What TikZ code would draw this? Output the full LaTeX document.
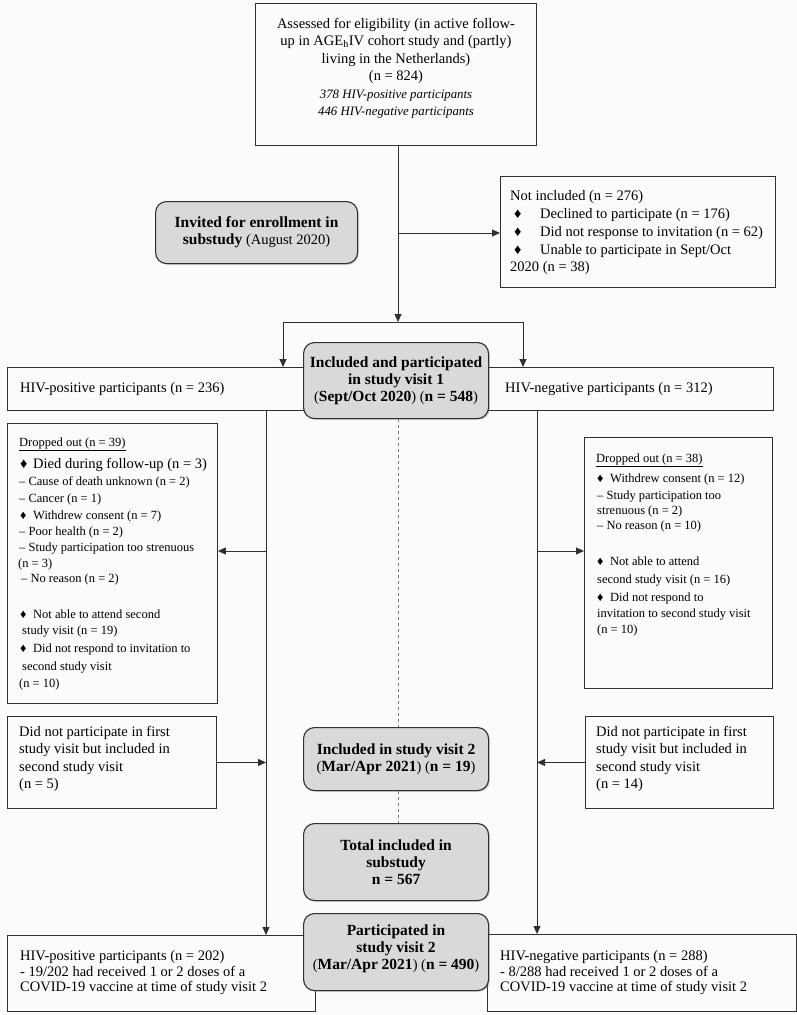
\documentclass[tikz,border=0pt]{standalone}
\usepackage{fontspec}
\setmainfont{Liberation Serif}
\usetikzlibrary{arrows.meta,shadows,calc}
\definecolor{bg}{HTML}{FBFBFB}
\definecolor{linec}{HTML}{303030}
\definecolor{gfill}{HTML}{D9D9D9}
\definecolor{dashc}{HTML}{7A7A7A}
\newcommand{\dia}{\makebox[13pt][l]{♦}}
\newcommand{\bft}[1]{{\fontsize{15.5}{17}\selectfont\bfseries #1}}
\begin{document}
\begin{tikzpicture}[x=1pt,y=-1pt,
  box/.style={draw=linec,line width=0.9pt,fill=bg,inner sep=0pt,anchor=north west},
  rbox/.style={draw=linec,line width=1.1pt,fill=gfill,rounded corners=11pt,inner sep=0pt,
    anchor=north west,align=center,font=\fontsize{14.5}{17}\selectfont,
    drop shadow={shadow xshift=1.3pt,shadow yshift=-1.3pt,opacity=0.35}},
  txt/.style={inner sep=0pt,anchor=base west,font=\fontsize{14.5}{17}\selectfont},
  stxt/.style={inner sep=0pt,anchor=base west,font=\fontsize{12.5}{16}\selectfont},
  arr/.style={draw=linec,line width=0.9pt,-{Triangle[length=8pt,width=7pt]}},
  ln/.style={draw=linec,line width=0.9pt},
  dsh/.style={draw=dashc,line width=1pt,dash pattern=on 3pt off 3pt}]
\fill[bg] (0,0) rectangle (797,1015);
\useasboundingbox (0,0) rectangle (797,1015);

% ---------- boxes ----------
\node[box,minimum width=281pt,minimum height=142pt] (assess) at (255,3) {};
\node[box,minimum width=275pt,minimum height=111pt] (notinc) at (500,176) {};
\node[box,minimum width=303pt,minimum height=43pt] (hivpos) at (7,367) {};
\node[box,minimum width=293pt,minimum height=43pt] (hivneg) at (480,367) {};
\node[box,minimum width=210pt,minimum height=280pt] (dropL) at (7,423) {};
\node[box,minimum width=188pt,minimum height=251pt] (dropR) at (584,437) {};
\node[box,minimum width=209pt,minimum height=92pt] (dnpL) at (7,716) {};
\node[box,minimum width=188pt,minimum height=92pt] (dnpR) at (585,716) {};
\node[box,minimum width=308pt,minimum height=76pt] (finL) at (7,935) {};
\node[box,minimum width=309pt,minimum height=77pt] (finR) at (487,934) {};

% ---------- rounded boxes ----------
\node[rbox,minimum width=202pt,minimum height=62pt] (invite) at (155,201)
  {\bft{Invited for enrollment in}\\\bft{substudy} (August 2020)};
\node[rbox,minimum width=185pt,minimum height=76pt] (visit1) at (303,342)
  {\bft{Included and participated}\\\bft{in study visit 1}\\(\bft{Sept/Oct 2020}) (\bft{n = 548})};
\node[rbox,minimum width=185pt,minimum height=63pt] (visit2) at (303,727)
  {\bft{Included in study visit 2}\\(\bft{Mar/Apr 2021}) (\bft{n = 19})};
\node[rbox,minimum width=185pt,minimum height=77pt] (total) at (303,823)
  {\bft{Total included in}\\\bft{substudy}\\\bft{n = 567}};
\node[rbox,minimum width=185pt,minimum height=77pt] (part2) at (303,913)
  {\bft{Participated in}\\\bft{study visit 2}\\(\bft{Mar/Apr 2021}) (\bft{n = 490})\\[-7pt]\mbox{}};

% ---------- texts ----------
\node[inner sep=0pt,anchor=north,align=center,font=\fontsize{14.5}{17.4}\selectfont] (assesstxt) at (396,18)
  {Assessed for eligibility (in active follow-\\up in AGE\textsubscript{h}IV cohort study and (partly)\\living in the Netherlands)\\(n = 824)\\{\fontsize{12.8}{17.4}\selectfont\itshape 378 HIV-positive participants}\\{\fontsize{12.8}{17.4}\selectfont\itshape 446 HIV-negative participants}};

\node[txt] (ni1) at (510,200) {Not included (n = 276)};
\node[txt] (ni2) at (514,218) {\makebox[26pt][l]{♦}Declined to participate (n = 176)};
\node[txt] (ni3) at (514,236) {\makebox[26pt][l]{♦}Did not response to invitation (n = 62)};
\node[txt] (ni4) at (514,254) {\makebox[26pt][l]{♦}Unable to participate in Sept/Oct};
\node[txt] (ni5) at (510,271) {2020 (n = 38)};

\node[txt] (hivpostxt) at (20,392) {HIV-positive participants (n = 236)};
\node[txt] (hivnegtxt) at (505,392) {HIV-negative participants (n = 312)};

% left dropped out
\node[stxt] (dl1) at (19,446) {\underline{Dropped out (n = 39)}};
\node[txt] (dl2) at (20,468) {\dia Died during follow-up (n = 3)};
\node[stxt] (dl3) at (19,485) {– Cause of death unknown (n = 2)};
\node[stxt] (dl4) at (19,502) {– Cancer (n = 1)};
\node[stxt] (dl5) at (20,519) {\dia Withdrew consent (n = 7)};
\node[stxt] (dl6) at (19,535) {– Poor health (n = 2)};
\node[stxt] (dl7) at (19,551) {– Study participation too strenuous};
\node[stxt] (dl8) at (18,567) {(n = 3)};
\node[stxt] (dl9) at (21,582) {– No reason (n = 2)};
\node[stxt] (dl10) at (20,618) {\dia Not able to attend second};
\node[stxt] (dl11) at (22,634) {study visit (n = 19)};
\node[stxt] (dl12) at (20,652) {\dia Did not respond to invitation to};
\node[stxt] (dl13) at (22,670) {second study visit};
\node[stxt] (dl14) at (19,687) {(n = 10)};

% right dropped out
\node[stxt] (dr1) at (596,462) {\underline{Dropped out (n = 38)}};
\node[stxt] (dr2) at (597,482) {\dia Withdrew consent (n = 12)};
\node[stxt] (dr3) at (597,499) {– Study participation too};
\node[stxt] (dr4) at (597,514) {strenuous (n = 2)};
\node[stxt] (dr5) at (597,529) {– No reason (n = 10)};
\node[stxt] (dr6) at (597,565) {\dia Not able to attend};
\node[stxt] (dr7) at (597,583) {second study visit (n = 16)};
\node[stxt] (dr8) at (597,601) {\dia Did not respond to};
\node[stxt] (dr9) at (597,617) {invitation to second study visit};
\node[stxt] (dr10) at (597,633) {(n = 10)};

% did not participate
\node[txt] (dnpL1) at (19,736) {Did not participate in first};
\node[txt] (dnpL2) at (19,753) {study visit but included in};
\node[txt] (dnpL3) at (19,771) {second study visit};
\node[txt] (dnpL4) at (19,788) {(n = 5)};
\node[txt] (dnpR1) at (596,736) {Did not participate in first};
\node[txt] (dnpR2) at (596,753) {study visit but included in};
\node[txt] (dnpR3) at (596,771) {second study visit};
\node[txt] (dnpR4) at (596,788) {(n = 14)};

% final
\node[txt] (fl1) at (20,960) {HIV-positive participants (n = 202)};
\node[txt] (fl2) at (20,976) {- 19/202 had received 1 or 2 doses of a};
\node[txt] (fl3) at (20,991) {COVID-19 vaccine at time of study visit 2};
\node[txt] (fr1) at (500,960) {HIV-negative participants (n = 288)};
\node[txt] (fr2) at (500,976) {- 8/288 had received 1 or 2 doses of a};
\node[txt] (fr3) at (500,991) {COVID-19 vaccine at time of study visit 2};

% ---------- connectors ----------
\coordinate (split) at (398,322);
\coordinate (branch) at (398,233);
\coordinate (sl) at (283,322);
\coordinate (sr) at (523,322);
\coordinate (vl) at (266,410);
\coordinate (vr) at (537,410);
\draw[arr] (split |- assess.south) -- (split);
\draw[arr] (branch) -- (branch -| notinc.west);
\draw[ln] (sl) -- (sr);
\draw[arr] (sl) -- (sl |- hivpos.north);
\draw[arr] (sr) -- (sr |- hivneg.north);
\draw[arr] (vl) -- (vl |- finL.north);
\draw[arr] (vr) -- (vr |- finR.north);
\draw[arr] (vl |- 0,551) -- (dropL.east |- 0,551);
\draw[arr] (vr |- 0,551) -- (dropR.west |- 0,551);
\draw[arr] (dnpL.east) -- (dnpL.east -| vl);
\draw[arr] (dnpR.west) -- (dnpR.west -| vr);
\draw[dsh] (visit1.south -| split) -- (visit2.north -| split);
\draw[dsh] (visit2.south -| split) -- (total.north -| split);
\end{tikzpicture}
\end{document}
